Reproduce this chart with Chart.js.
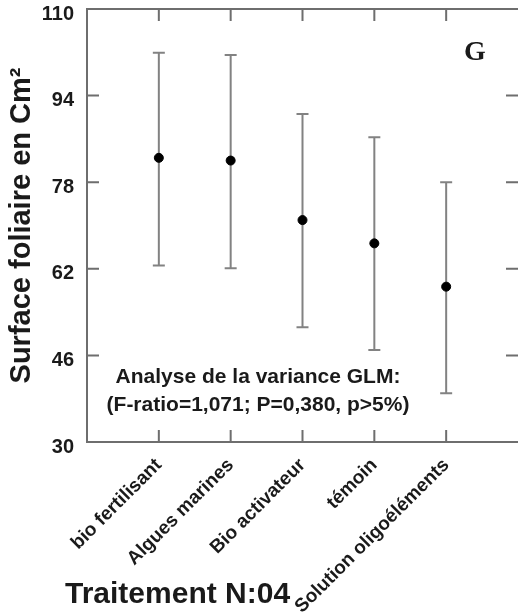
<!DOCTYPE html>
<html>
<head>
<meta charset="utf-8">
<script src="https://cdn.jsdelivr.net/npm/chart.js@4.4.0/dist/chart.umd.min.js"></script>
<style>
  html, body { margin: 0; padding: 0; background: #fff; }
  #wrap { width: 518px; height: 615px; position: relative; }
</style>
</head>
<body>
<div id="wrap"><canvas id="surfaceChart"></canvas></div>
<script>
// Surface foliaire : moyenne et intervalle par traitement
var traitements = ['bio fertilisant', 'Algues marines', 'Bio activateur', 'témoin', 'Solution oligoéléments'];
var moyennes = [82.5, 82.0, 71.0, 66.7, 58.7];
var bornesHautes = [101.9, 101.5, 90.6, 86.3, 78.0];
var bornesBasses = [62.6, 62.1, 51.2, 47.0, 39.0];
var ticksY = [30, 46, 62, 78, 94, 110];

var police = "'Liberation Sans', Arial, sans-serif";
var gris = '#6e6e6e';

// barres d'erreur (trait vertical + petites barres)
var barresErreur = {
    id: 'barresErreur',
    beforeDatasetsDraw: function (chart) {
        var ctx = chart.ctx;
        var sx = chart.scales.x, sy = chart.scales.y;
        ctx.save();
        ctx.strokeStyle = '#828282';
        ctx.lineWidth = 2;
        for (var i = 0; i < traitements.length; i++) {
            var x = sx.getPixelForValue(i + 1);
            var yh = sy.getPixelForValue(bornesHautes[i]);
            var yb = sy.getPixelForValue(bornesBasses[i]);
            ctx.beginPath();
            ctx.moveTo(x, yh); ctx.lineTo(x, yb);
            ctx.moveTo(x - 6, yh); ctx.lineTo(x + 6, yh);
            ctx.moveTo(x - 6, yb); ctx.lineTo(x + 6, yb);
            ctx.stroke();
        }
        ctx.restore();
    }
};

// cadre, graduations vers l'intérieur et textes
var cadre = {
    id: 'cadre',
    afterDraw: function (chart) {
        var ctx = chart.ctx;
        var a = chart.chartArea;
        var sx = chart.scales.x, sy = chart.scales.y;
        var t = 12;
        ctx.save();
        ctx.strokeStyle = gris;
        ctx.lineWidth = 2;
        ctx.beginPath();
        ctx.moveTo(a.right + 2, a.top); ctx.lineTo(a.left, a.top);
        ctx.lineTo(a.left, a.bottom); ctx.lineTo(a.right + 2, a.bottom);
        ticksY.forEach(function (v) {
            var y = sy.getPixelForValue(v);
            ctx.moveTo(a.left, y); ctx.lineTo(a.left + t, y);
            ctx.moveTo(a.right, y); ctx.lineTo(a.right - t, y);
        });
        traitements.forEach(function (n, i) {
            var x = sx.getPixelForValue(i + 1);
            ctx.moveTo(x, a.top); ctx.lineTo(x, a.top + t);
            ctx.moveTo(x, a.bottom); ctx.lineTo(x, a.bottom - t);
        });
        ctx.stroke();

        ctx.fillStyle = '#1a1a1a';
        ctx.textAlign = 'center';
        ctx.textBaseline = 'alphabetic';
        ctx.font = 'bold 21px ' + police;
        ctx.fillText('Analyse de la variance GLM:', 258, 383);
        ctx.fillText('(F-ratio=1,071; P=0,380, p>5%)', 258, 411);

        ctx.font = "bold 28px 'Liberation Serif', 'Times New Roman', serif";
        ctx.fillText('G', 475, 60);

        ctx.textAlign = 'left';
        ctx.font = 'bold 30px ' + police;
        ctx.fillText('Traitement N:04', 65, 603);
        ctx.restore();
    }
};

var ctx = document.getElementById('surfaceChart').getContext('2d');
var chart = new Chart(ctx, {
    type: 'scatter',
    data: {
        datasets: [{
            data: moyennes.map(function (m, i) { return { x: i + 1, y: m }; }),
            backgroundColor: '#000',
            borderColor: '#000',
            pointRadius: 4.5,
            pointHoverRadius: 4.5
        }]
    },
    options: {
        responsive: true,
        maintainAspectRatio: false,
        animation: false,
        layout: {
            autoPadding: false,
            padding: { top: 9, right: 0, left: 0, bottom: 0 }
        },
        plugins: {
            legend: { display: false },
            tooltip: { enabled: false }
        },
        scales: {
            x: {
                type: 'linear',
                min: 0,
                max: 6,
                grid: { display: false },
                border: { display: false },
                afterBuildTicks: function (scale) {
                    scale.ticks = traitements.map(function (n, i) { return { value: i + 1 }; });
                },
                afterFit: function (scale) {
                    scale.height = 173;
                    scale.paddingLeft = 0;
                    scale.paddingRight = 0;
                },
                ticks: {
                    autoSkip: false,
                    maxRotation: 45,
                    minRotation: 45,
                    padding: 4,
                    color: '#1a1a1a',
                    font: { family: police, size: 19, weight: 'bold' },
                    callback: function (v) { return traitements[v - 1]; }
                }
            },
            y: {
                min: 30,
                max: 110,
                grid: { display: false },
                border: { display: false },
                afterBuildTicks: function (scale) {
                    scale.ticks = ticksY.map(function (v) { return { value: v }; });
                },
                afterFit: function (scale) {
                    scale.width = 87;
                    scale.paddingTop = 0;
                    scale.paddingBottom = 0;
                },
                ticks: {
                    padding: 5,
                    labelOffset: 5,
                    color: '#1a1a1a',
                    font: { family: police, size: 20, weight: 'bold' }
                },
                title: {
                    display: true,
                    text: 'Surface foliaire en Cm²',
                    color: '#1a1a1a',
                    padding: { top: 5, bottom: 0 },
                    font: { family: police, size: 29, weight: 'bold' }
                }
            }
        }
    },
    plugins: [barresErreur, cadre]
});
</script>
</body>
</html>
